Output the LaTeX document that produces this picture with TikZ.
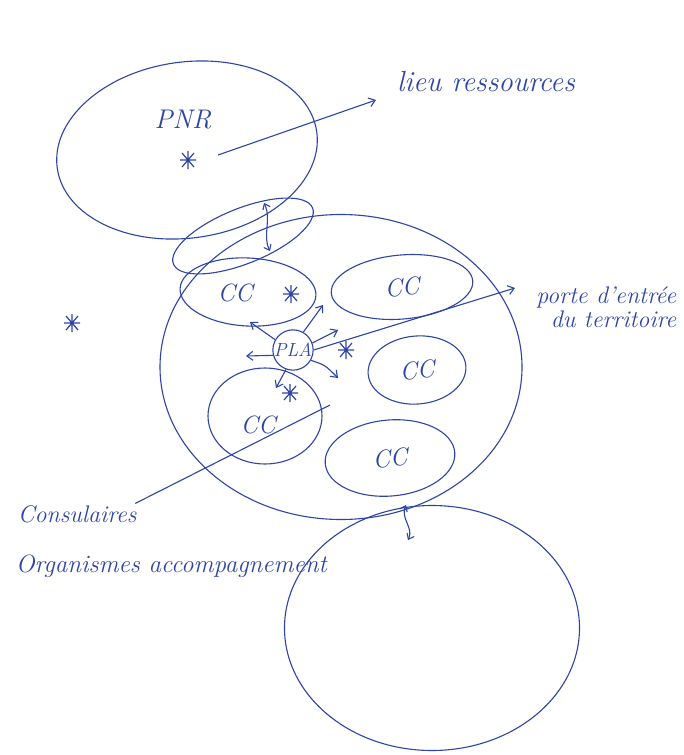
\documentclass[tikz,border=0pt]{standalone}
\usetikzlibrary{shapes.geometric,arrows.meta}
\definecolor{ink}{HTML}{2E44A6}
\tikzset{
  blob/.style={draw=ink, ellipse, inner sep=0pt},
  hand/.style={text=ink, font=\fontsize{#1}{#1}\selectfont\itshape},
  hand/.default=25,
  arr/.style={draw=ink, -{Straight Barb[length=6pt,width=9pt]}},
  darr/.style={draw=ink, {Straight Barb[length=5pt,width=8pt]}-{Straight Barb[length=5pt,width=8pt]}},
  asterisk/.pic={
    \draw[ink, line width=1.2pt] (-8,0)--(8,0) (0,-9)--(0,9) (-6,-7)--(6,7) (-6,7)--(6,-7);
  }
}
\begin{document}
\begin{tikzpicture}[x=1pt,y=-1pt, line width=1.1pt]
\useasboundingbox[fill=white] (0,0) rectangle (684,755);

% large areas
\node[blob, minimum width=262pt, minimum height=176pt, rotate=8] (pnr) at (187,150) {};
\node[blob, minimum width=150pt, minimum height=55pt, rotate=22] (lens) at (243,236) {};
\node[blob, minimum width=362pt, minimum height=305pt] (terr) at (341,367) {};
\node[blob, minimum width=295pt, minimum height=245pt] (org) at (432,628) {};

% CC ellipses
\node[blob, minimum width=136pt, minimum height=68pt, rotate=-3] (cc1) at (248,292) {};
\node[hand] (cc1t) at (235,293) {CC};
\node[blob, hand, minimum width=142pt, minimum height=64pt, rotate=5] (cc2) at (402,287) {CC};
\node[blob, hand, minimum width=98pt, minimum height=68pt, rotate=5] (cc3) at (417,370) {CC};
\node[blob, minimum width=114pt, minimum height=96pt] (cc4) at (265,416) {};
\node[hand] (cc4t) at (258,425) {CC};
\node[blob, hand, minimum width=130pt, minimum height=76pt, rotate=5] (cc5) at (390,458) {CC};

% PLA
\node[draw=ink, circle, hand=19, inner sep=0pt, minimum size=38pt] (pla) at (293,350) {PLA};

% labels
\node[hand=27] (pnrt) at (183,120) {PNR};
\node[hand=29] (lr) at (486,82) {lieu ressources};
\node[hand=24, align=right, anchor=east] (porte) at (680,307) {porte d'entrée\\du territoire};
\node[hand=24, anchor=west] (cons) at (14,514) {Consulaires};
\node[hand=25, anchor=west] (orga) at (12,566) {Organismes accompagnement};

% asterisks
\pic (a1) at (188,160) {asterisk};
\pic (a2) at (291,294) {asterisk};
\pic (a3) at (346,350) {asterisk};
\pic (a4) at (290,393) {asterisk};
\pic (a5) at (72,323) {asterisk};

% connectors
\coordinate (lrTip) at (376,100);
\coordinate (pnrStart) at (218,155);
\draw[arr] (pnrStart) -- (lrTip);

\coordinate (porteTip) at (515,288);
\draw[arr] (pla.east) -- (porteTip);

\coordinate (consEnd) at (330,405);
\draw[ink] (cons.north east) ++(-5,2) -- (consEnd);

\coordinate (d1a) at (264,203);
\coordinate (d1b) at (270,251);
\draw[darr] (d1a) .. controls (272,220) and (262,235) .. (d1b);

\coordinate (d2a) at (406,505);
\coordinate (d2b) at (408,540);
\draw[darr] (d2a) .. controls (400,518) and (414,528) .. (d2b);

% PLA short arrows
\coordinate (p1) at (250,322);
\coordinate (p2) at (246,356);
\coordinate (p3) at (323,305);
\coordinate (p4) at (338,330);
\coordinate (p5) at (338,378);
\coordinate (p6) at (276,388);
\draw[arr] (pla.150) -- (p1);
\draw[arr] (pla.195) -- (p2);
\draw[arr] (pla.60) -- (p3);
\draw[arr] (pla.20) -- (p4);
\draw[arr] (pla.-30) .. controls (325,365) .. (p5);
\draw[arr] (pla.-110) .. controls (283,375) .. (p6);
\end{tikzpicture}
\end{document}
